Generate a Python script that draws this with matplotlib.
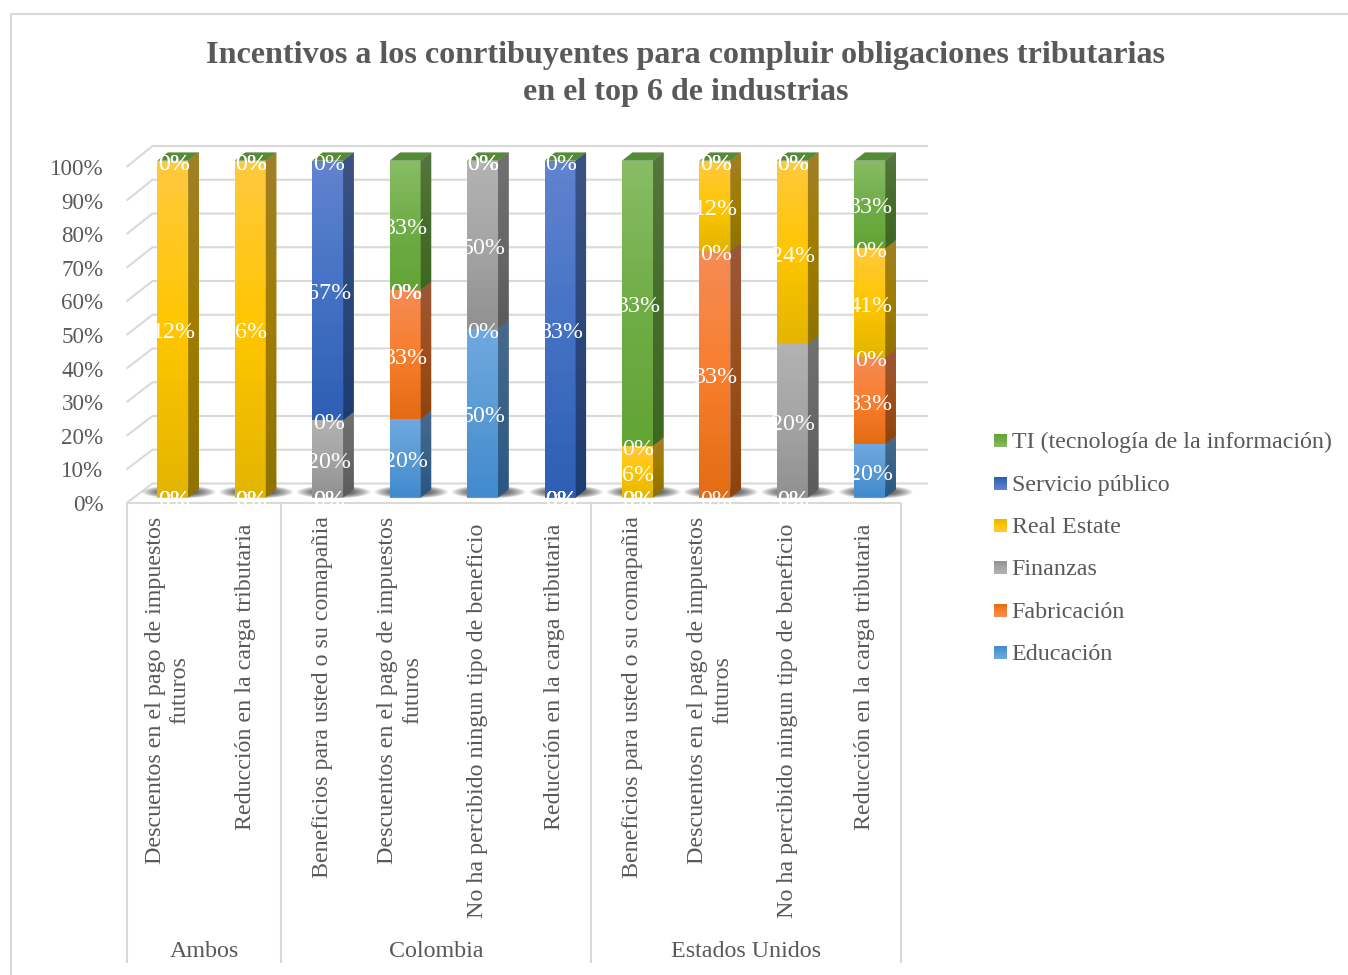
import numpy as np
import matplotlib
matplotlib.use('Agg')
import matplotlib.pyplot as plt
from matplotlib.colors import LinearSegmentedColormap
from matplotlib.patches import Polygon, Ellipse

plt.rcParams['font.family'] = ['Liberation Serif', 'DejaVu Serif']

# data, the labels on the bars are the raw values, the stack is 100%
categories = [
    "Descuentos en el pago de impuestos\nfuturos",
    "Reducción en la carga tributaria",
    "Beneficios para usted o su comapañia",
    "Descuentos en el pago de impuestos\nfuturos",
    "No ha percibido ningun tipo de beneficio",
    "Reducción en la carga tributaria",
    "Beneficios para usted o su comapañia",
    "Descuentos en el pago de impuestos\nfuturos",
    "No ha percibido ningun tipo de beneficio",
    "Reducción en la carga tributaria",
]
groups = ["Ambos", "Colombia", "Estados Unidos"]
group_sizes = [2, 4, 4]
educacion = [0, 0, 0, 20, 50, 0, 0, 0, 0, 20]
fabricacion = [0, 0, 0, 33, 0, 0, 0, 33, 0, 33]
finanzas = [0, 0, 20, 0, 50, 0, 0, 0, 20, 0]
real_estate = [12, 6, 0, 0, 0, 0, 6, 12, 24, 41]
servicio = [0, 0, 67, 0, 0, 83, 0, 0, 0, 0]
ti = [0, 0, 0, 33, 0, 0, 33, 0, 0, 33]
series_names = ["Educación", "Fabricación", "Finanzas", "Real Estate", "Servicio público",
                "TI (tecnología de la información)"]
y_ticks = [0, 10, 20, 30, 40, 50, 60, 70, 80, 90, 100]

series = [educacion, fabricacion, finanzas, real_estate, servicio, ti]
# gradient top, middle, bottom of each colour
stops = [
    ["#6fa8e0", "#5b9bd5", "#428acf"],
    ["#f58b55", "#f97e2e", "#e36c14"],
    ["#b2b2b2", "#a5a5a5", "#919191"],
    ["#ffc93e", "#ffc600", "#e4b500"],
    ["#6183cf", "#4472c4", "#2e5fb5"],
    ["#88bc64", "#70ad47", "#63a435"],
]

W, H = 1348, 975
PX_X = 77.45     # pixels per category
PX_Y = 3.368     # pixels per percent
X0 = 172.8       # pixel of first bar centre
Y0 = 497.5       # pixel of 0 %
BAR_W = 31 / PX_X
DX = 10.5 / PX_X
DY = 8.3 / PX_Y
GREY = '#595959'
LINE = '#d9d9d9'
FS = 17.3

fig = plt.figure(figsize=(W / 100, H / 100), dpi=100, facecolor='white')

# layer in pixels for the chart furniture
deco = fig.add_axes([0, 0, 1, 1], zorder=0)
deco.set_xlim(0, W)
deco.set_ylim(H, 0)
deco.axis('off')

# layer in data units for the bars
ax = fig.add_axes([0, 0, 1, 1], zorder=1)
ax.patch.set_alpha(0)
ax.axis('off')

line_kw = dict(color=LINE, lw=1.5, solid_capstyle='butt')

# outer frame
deco.plot([10.5, 10.5, W], [H, 13.5, 13.5], **line_kw)

# walls and floor
for t in y_ticks:
    front = 503 - 33.6 * t / 10
    back = 483.5 - 33.75 * t / 10
    deco.plot([126.5, 152.5, 928], [front, back, back], **line_kw)
    deco.text(103.5, front + 2.5, f"{t}%", ha='right', va='center', fontsize=16.6, color=GREY)
deco.plot([126.5, 901], [503, 503], **line_kw)

# category axis
cell = (901 - 126.5) / len(categories)
edge = 0
deco.plot([126.5, 126.5], [503, 963], **line_kw)
for name, size in zip(groups, group_sizes):
    start = 126.5 + edge * cell
    edge += size
    end = 126.5 + edge * cell
    deco.plot([end, end], [503, 963], **line_kw)
    deco.text((start + end) / 2, 951.5, name, ha='center', va='center', fontsize=FS, color=GREY)
label_top = [516.5, 523.5, 516.5, 516.5, 523.5, 523.5, 516.5, 516.5, 523.5, 523.5]
for i, cat in enumerate(categories):
    deco.text(126.5 + cell * (i + 0.5) + 2.5, label_top[i], cat, rotation=90, ha='center', va='top',
              multialignment='center', fontsize=FS, color=GREY, linespacing=1.24)

# title
deco.text(685.5, 74, "Incentivos a los conrtibuyentes para compluir obligaciones tributarias\nen el top 6 de industrias",
          ha='center', va='center', multialignment='center', fontsize=23.1, fontweight='bold',
          color=GREY, linespacing=1.37)

# legend
grad = np.linspace(0, 1, 32)[:, None]
legend_y = [653, 611, 568, 526, 484, 441]
for name, st, y in zip(series_names, stops, legend_y):
    cm = LinearSegmentedColormap.from_list('c', st)
    deco.imshow(grad, cmap=cm, aspect='auto', extent=(994, 1007, y + 6.5, y - 6.5), origin='lower', zorder=3)
    deco.text(1011.5, y + 1.5, name, ha='left', va='center', fontsize=FS, color=GREY)
deco.set_xlim(0, W)
deco.set_ylim(H, 0)

x = np.arange(len(categories))
vals = np.array(series, dtype=float)
pct = vals / vals.sum(axis=0) * 100

# soft shadow on the floor, nested ellipses behind each bar
for xi in x:
    for k in np.linspace(1, 0.1, 24):
        ax.add_patch(Ellipse((xi + 6 / PX_X, 5.5 / PX_Y), 74 * k / PX_X, 13 * k / PX_Y,
                             facecolor='black', edgecolor='none', alpha=0.06, zorder=1))

# stacked bars drawn bottom up: front face, side face, top face
bottom = np.zeros(len(categories))
for s, (row, st) in enumerate(zip(pct, stops)):
    cm = LinearSegmentedColormap.from_list('c', st)
    side_stops = [tuple(c * 0.63 for c in matplotlib.colors.to_rgb(h)) for h in st]
    side_cm = LinearSegmentedColormap.from_list('s', side_stops)
    z = 2 + s
    bars = ax.bar(x, row, BAR_W, bottom=bottom, color=st[1], linewidth=0, zorder=z, label=series_names[s])
    for xi, rect, b, h in zip(x, bars, bottom, row):
        if h == 0:
            continue
        left = xi - BAR_W / 2
        right = xi + BAR_W / 2
        im = ax.imshow(grad, cmap=cm, aspect='auto', extent=(left, right, b, b + h), origin='upper', zorder=z)
        im.set_clip_path(rect)
        side = Polygon([(right, b), (right + DX, b + DY), (right + DX, b + h + DY), (right, b + h)],
                       closed=True, color=side_stops[1], lw=0, zorder=z)
        ax.add_patch(side)
        im2 = ax.imshow(grad, cmap=side_cm, aspect='auto', extent=(right, right + DX, b, b + h + DY),
                        origin='upper', zorder=z)
        im2.set_clip_path(side)
    bottom = bottom + row

# top face, it belongs to the last series of the stack
for xi in x:
    left = xi - BAR_W / 2
    right = xi + BAR_W / 2
    ax.add_patch(Polygon([(left, 100), (left + DX, 100 + DY), (right + DX, 100 + DY), (right, 100)],
                         closed=True, color='#568a38', lw=0, zorder=9))

# data labels, white and centred, so they vanish outside the bars
bottom = np.zeros(len(categories))
for row, raw in zip(pct, vals):
    for xi, b, h, value in zip(x, bottom, row, raw):
        ax.text(xi + 1 / PX_X, b + h / 2 - 3.5 / PX_Y, f"{value:.0f}%", ha='center', va='center', color='white',
                fontsize=FS, zorder=12)
    bottom = bottom + row

ax.set_xlim((0 - X0) / PX_X, (W - X0) / PX_X)
ax.set_ylim((Y0 - H) / PX_Y, Y0 / PX_Y)

fig.savefig('out.png', dpi=100)
